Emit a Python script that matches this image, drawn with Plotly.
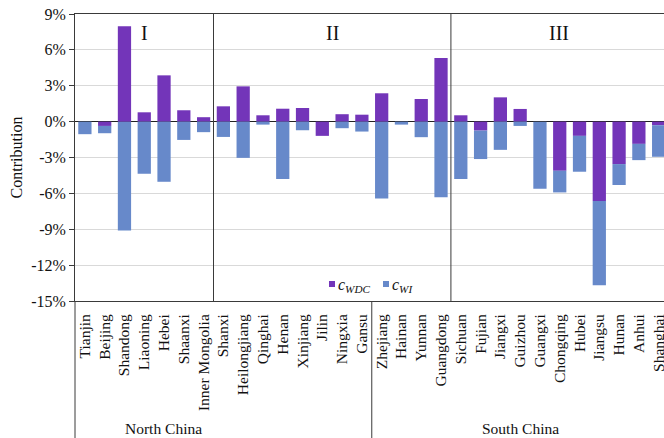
import plotly.graph_objects as go

# Provinces in plotting order (North China first, then South China)
provinces = ["Tianjin", "Beijing", "Shandong", "Liaoning", "Hebei", "Shaanxi",
             "Inner Mongolia", "Shanxi", "Heilongjiang", "Qinghai", "Henan",
             "Xinjiang", "Jilin", "Ningxia", "Gansu", "Zhejiang", "Hainan",
             "Yunnan", "Guangdong", "Sichuan", "Fujian", "Jiangxi", "Guizhou",
             "Guangxi", "Chongqing", "Hubei", "Jiangsu", "Hunan", "Anhui",
             "Shanghai"]

# Contributions in percent
c_wdc = [0.0, -0.36, 7.97, 0.78, 3.87, 0.95, 0.37, 1.28, 2.95, 0.53, 1.08,
         1.14, -1.19, 0.62, 0.58, 2.37, 0.0, 1.89, 5.33, 0.53, -0.75, 2.03,
         1.06, 0.0, -4.11, -1.19, -6.64, -3.55, -1.86, -0.30]
c_wi = [-1.05, -0.61, -9.11, -4.36, -5.03, -1.53, -0.88, -1.28, -3.03, -0.25,
        -4.80, -0.72, 0.0, -0.55, -0.83, -6.42, -0.25, -1.30, -6.33, -4.80,
        -2.38, -2.36, -0.36, -5.61, -1.81, -3.00, -7.05, -1.75, -1.36, -2.64]

y_ticks = [9, 6, 3, 0, -3, -6, -9, -12, -15]

# group boundaries (between category indices)
group_breaks = [6.5, 18.5]      # I | II | III
region_break = 14.5             # North China | South China
groups = [("I", 144), ("II", 332), ("III", 559)]

PURPLE = "#7335B9"
BLUE = "#6789CA"
FONT = "Liberation Serif, Times New Roman, Times, serif"
LINE = "#3a3a3a"

W, H = 664, 438
ML, MR, MT, MB = 75, 0, 14, 137
X0, X1 = -0.5, 29.27
PW, PH = W - ML - MR, H - MT - MB


def px_x(px):
    return (px - ML) / PW


def px_y(py):
    return (H - MB - py) / PH


fig = go.Figure()
fig.add_trace(go.Bar(x=provinces, y=c_wdc, name="c_WDC", marker_color=PURPLE,
                     marker_line_width=0, showlegend=False))
fig.add_trace(go.Bar(x=provinces, y=c_wi, name="c_WI", marker_color=BLUE,
                     marker_line_width=0, showlegend=False))

shapes = []
# dividers between groups inside the plot
for b in group_breaks:
    shapes.append(dict(type="line", xref="x", yref="paper", x0=b, x1=b,
                       y0=0, y1=1, line=dict(color=LINE, width=1)))
# region lines below the axis
bottom = -MB / PH
shapes.append(dict(type="line", xref="paper", yref="paper", x0=0, x1=0,
                   y0=bottom, y1=0, line=dict(color=LINE, width=1)))
shapes.append(dict(type="line", xref="x", yref="paper", x0=region_break,
                   x1=region_break, y0=bottom, y1=0,
                   line=dict(color=LINE, width=1)))

annotations = []
for label, xp in groups:
    annotations.append(dict(text=label, xref="paper", yref="paper",
                            x=px_x(xp), y=px_y(33), showarrow=False,
                            xanchor="center", yanchor="middle",
                            font=dict(family=FONT, size=20, color="#111")))
for label, xp in [("North China", 163), ("South China", 520)]:
    annotations.append(dict(text=label, xref="paper", yref="paper",
                            x=px_x(xp), y=px_y(428), showarrow=False,
                            xanchor="center", yanchor="middle",
                            font=dict(family=FONT, size=15.5, color="#111")))

# legend
legend_items = [(PURPLE, "<i>c</i><sub><i>WDC</i></sub>", 329),
                (BLUE, "<i>c</i><sub><i>WI</i></sub>", 383)]
for color, text, xp in legend_items:
    shapes.append(dict(type="rect", xref="paper", yref="paper",
                       x0=px_x(xp), x1=px_x(xp + 6), y0=px_y(287), y1=px_y(281),
                       fillcolor=color, line_width=0))
    annotations.append(dict(text=text, xref="paper", yref="paper",
                            x=px_x(xp + 7), y=px_y(285), showarrow=False,
                            xanchor="left", yanchor="middle",
                            font=dict(family=FONT, size=16, color="#111")))

fig.update_layout(
    width=W, height=H,
    margin=dict(l=ML, r=MR, t=MT, b=MB, pad=0),
    barmode="relative",
    bargap=0.33,
    plot_bgcolor="white", paper_bgcolor="white",
    font=dict(family=FONT, color="#111"),
    shapes=shapes,
    annotations=annotations,
    showlegend=False,
)
fig.update_xaxes(
    range=[X0, X1], showgrid=False, tickangle=-90,
    tickfont=dict(family=FONT, size=15.5, color="#111"),
    showline=True, linecolor=LINE, linewidth=1, mirror=True,
    ticks="", ticklabelstandoff=6, automargin=False,
)
fig.update_yaxes(
    range=[-15, 9], tickvals=y_ticks, ticktext=[f"{v}%" for v in y_ticks],
    showgrid=True, gridcolor="#d9d9d9", gridwidth=1,
    zeroline=True, zerolinecolor="#222", zerolinewidth=1,
    showline=True, linecolor=LINE, linewidth=1,
    ticks="outside", ticklen=5, tickcolor=LINE,
    tickfont=dict(family=FONT, size=16, color="#111"),
    title=dict(text="Contribution", font=dict(family=FONT, size=16, color="#111"),
               standoff=4),
    automargin=False,
)

fig.write_html("out.html")
